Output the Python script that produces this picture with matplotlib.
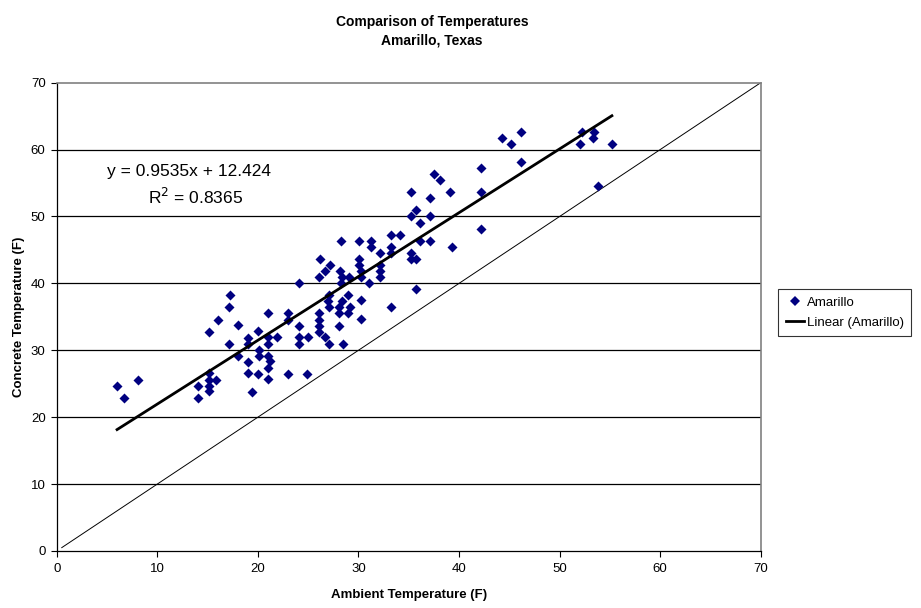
import matplotlib

matplotlib.use("Agg")

import matplotlib.pyplot as plt
import numpy as np
from matplotlib.lines import Line2D

plt.rcParams["font.family"] = ["Liberation Sans", "DejaVu Sans"]

# ambient vs concrete temperature readings (F)
AMBIENT = [
    6.0, 6.7, 8.1,
    14.0, 14.0,
    15.1, 15.1, 15.1, 15.1, 15.8,
    15.1, 16.0, 17.1, 17.2, 17.1, 18.0, 18.0,
    19.0, 19.0, 19.0, 19.0, 19.4,
    20.0, 20.1, 20.1, 20.0,
    21.0, 21.0, 21.0, 21.0, 21.2, 21.0, 21.0,
    21.9, 23.0, 23.0, 23.0,
    24.1, 24.1, 24.1, 24.1, 25.0, 24.9,
    26.2, 26.7, 26.1, 26.1, 26.1, 26.1, 26.1, 26.7,
    27.2, 27.1, 27.0, 27.1, 27.1,
    28.3, 28.2, 28.4, 28.3, 28.4, 28.1, 28.1, 28.1, 28.5,
    29.0, 29.2, 29.0, 29.1,
    30.1, 30.1, 30.1, 30.3, 30.3, 30.3, 30.3,
    31.0, 31.2, 31.2,
    32.1, 32.1, 32.1, 32.1,
    33.2, 33.2, 33.2, 33.2, 34.1,
    35.2, 35.7, 35.2, 35.2, 35.2, 35.7, 35.7,
    36.1, 36.1,
    37.1, 37.1, 37.1, 37.5, 38.1,
    39.1, 39.3,
    42.2, 42.2, 42.2,
    44.3, 45.2, 46.2, 46.2,
    52.2, 53.4, 52.0, 53.3, 55.2, 53.8,
]
CONCRETE = [
    24.7, 22.9, 25.6,
    24.7, 22.9,
    26.6, 25.6, 24.7, 23.9, 25.6,
    32.8, 34.6, 36.5, 38.3, 31.0, 33.8, 29.2,
    31.9, 31.0, 28.3, 26.6, 23.8,
    32.9, 30.1, 29.2, 26.5,
    35.6, 32.0, 31.0, 29.2, 28.4, 27.4, 25.7,
    32.0, 35.6, 34.6, 26.5,
    40.0, 33.7, 32.0, 31.0, 32.0, 26.5,
    43.7, 41.9, 41.0, 35.6, 34.6, 33.7, 32.8, 32.0,
    42.8, 38.2, 37.3, 36.5, 31.0,
    46.4, 41.9, 41.0, 40.0, 37.3, 36.5, 35.6, 33.7, 31.0,
    38.2, 36.5, 35.6, 41.0,
    46.3, 43.6, 42.8, 41.8, 40.9, 37.5, 34.7,
    40.0, 46.3, 45.4,
    44.5, 42.8, 41.8, 40.9,
    47.3, 45.4, 44.6, 36.5, 47.3,
    53.6, 50.9, 50.0, 44.6, 43.7, 43.7, 39.2,
    49.1, 46.4,
    52.7, 50.0, 46.4, 56.3, 55.4,
    53.6, 45.5,
    57.2, 53.6, 48.2,
    61.7, 60.8, 62.6, 58.1,
    62.6, 62.6, 60.8, 61.7, 60.8, 54.5,
]

# trendline as printed on the chart
SLOPE = 0.9535
INTERCEPT = 12.424
R_SQUARED = 0.8365

AXIS_MAX = 70
TICKS = np.arange(0, 80, 10)


def main() -> None:
    x = np.array(AMBIENT)
    y = np.array(CONCRETE)

    fig = plt.figure(figsize=(9.21, 6.08), dpi=100)
    ax = fig.add_axes([0.0616, 0.0938, 0.7644, 0.7702])

    for level in TICKS[1:-1]:
        ax.axhline(level, color="black", linewidth=0.9, zorder=1)

    # 1:1 reference line
    ax.plot([0.5, AXIS_MAX], [0.5, AXIS_MAX], color="black", linewidth=0.7, zorder=2)

    ax.scatter(x, y, marker="D", s=26, color="#000080", linewidths=0, zorder=3)

    fit_x = np.array([x.min(), x.max()])
    ax.plot(fit_x, SLOPE * fit_x + INTERCEPT, color="black", linewidth=2.0, zorder=4)

    ax.set_xlim(0, AXIS_MAX)
    ax.set_ylim(0, AXIS_MAX)
    ax.set_xticks(TICKS)
    ax.set_yticks(TICKS)
    ax.tick_params(direction="out", length=4, width=0.8, labelsize=9.5)
    ax.tick_params(axis="x", pad=5)
    ax.tick_params(axis="y", pad=4)

    for side in ("left", "bottom"):
        ax.spines[side].set_color("black")
        ax.spines[side].set_linewidth(0.9)
    for side in ("top", "right"):
        ax.spines[side].set_color("#808080")
        ax.spines[side].set_linewidth(1.2)

    ax.set_xlabel("Ambient Temperature (F)", fontsize=9.5, fontweight="bold")
    ax.set_ylabel("Concrete Temperature (F)", fontsize=9.5, fontweight="bold")
    ax.xaxis.set_label_coords(0.5, -0.082)
    ax.yaxis.set_label_coords(-0.045, 0.5)

    ax.text(0.072, 0.810, f"y = {SLOPE}x + {INTERCEPT}", transform=ax.transAxes,
            fontsize=12.5, ha="left", va="center")
    ax.text(0.130, 0.756, f"R$^2$ = {R_SQUARED}", transform=ax.transAxes,
            fontsize=12.5, ha="left", va="center")

    fig.text(0.469, 0.976, "Comparison of Temperatures\nAmarillo, Texas",
             ha="center", va="top", fontsize=10, fontweight="bold", linespacing=1.45)

    handles = [
        Line2D([], [], marker="D", linestyle="none", color="#000080", markersize=5,
               markeredgewidth=0),
        Line2D([], [], color="black", linewidth=2.0),
    ]
    legend = fig.legend(handles, ["Amarillo", "Linear (Amarillo)"],
                        loc="upper left", bbox_to_anchor=(0.845, 0.524),
                        fontsize=9.5, frameon=True, fancybox=False, borderpad=0.55,
                        handlelength=1.4, handletextpad=0.2, labelspacing=0.6,
                        borderaxespad=0)
    legend.get_frame().set_edgecolor("black")
    legend.get_frame().set_linewidth(0.8)

    fig.savefig("out.png", dpi=100)
    plt.close(fig)


if __name__ == "__main__":
    main()
